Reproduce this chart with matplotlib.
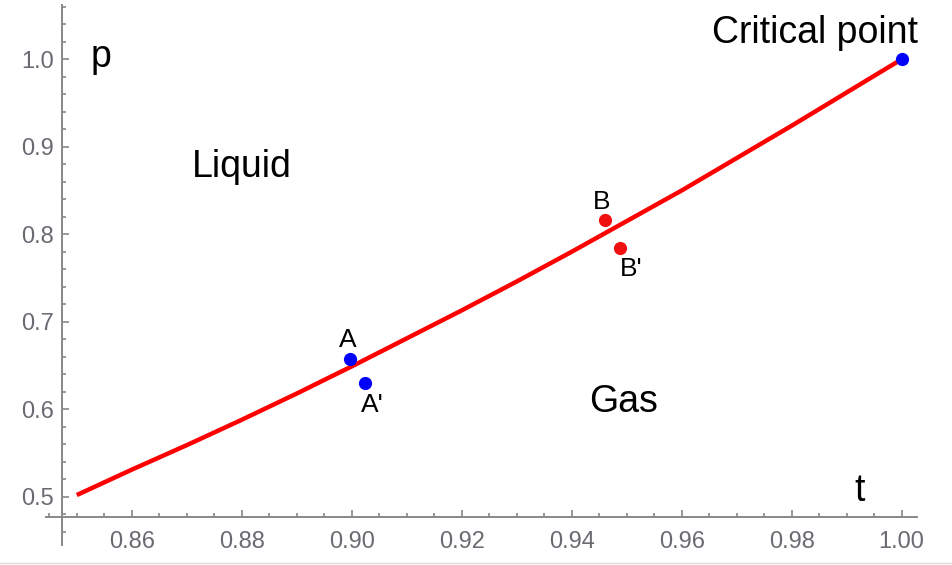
import numpy as np
import matplotlib.pyplot as plt
from matplotlib.lines import Line2D
from matplotlib.ticker import MultipleLocator, FormatStrFormatter

plt.rcParams['font.family'] = ['Liberation Sans', 'DejaVu Sans']

# coexistence curve p(t)
t_curve = [0.85, 0.86, 0.87, 0.88, 0.89, 0.90, 0.91, 0.92,
           0.93, 0.94, 0.95, 0.96, 0.97, 0.98, 0.99, 1.00]
p_curve = [0.502, 0.531, 0.559, 0.588, 0.618, 0.649, 0.681, 0.713,
           0.746, 0.780, 0.815, 0.850, 0.887, 0.924, 0.962, 1.000]

# marked states
blue_t = [0.8997, 0.9024, 1.0]
blue_p = [0.658, 0.630, 1.0]
red_t = [0.946, 0.9487]
red_p = [0.816, 0.784]

# point labels and region labels: (text, t, p)
point_labels = [("A", 0.8993, 0.671), ("A'", 0.9037, 0.597),
                ("B", 0.9455, 0.829), ("B'", 0.9508, 0.752)]
region_labels = [("p", 0.8545, 0.991), ("Liquid", 0.880, 0.866),
                 ("Gas", 0.9495, 0.597), ("Critical point", 0.9843, 1.0186),
                 ("t", 0.9924, 0.4954)]

fig = plt.figure(figsize=(9.52, 5.65), dpi=100)
ax = fig.add_axes([46 / 952, 1 - 545 / 565, 871 / 952, 540 / 565])

ax.plot(t_curve, p_curve, color='#ff0000', lw=3.2, solid_capstyle='butt', zorder=2)
ax.plot(red_t, red_p, 'o', color='#f01010', ms=9.5, mec='none', zorder=3)
ax.plot(blue_t, blue_p, 'o', color='#0000ff', ms=9.5, mec='none', zorder=3)

for txt, x, y in point_labels:
    ax.text(x, y, txt, ha='center', va='baseline', fontsize=19, color='black')
for txt, x, y in region_labels:
    ax.text(x, y, txt, ha='center', va='baseline', fontsize=27, color='black')

ax.set_xlim(0.8444, 1.0028)
ax.set_ylim(0.4449, 1.062)

# Mathematica-like crossing axes
axis_color = '#888888'
for side in ['top', 'right']:
    ax.spines[side].set_visible(False)
ax.spines['left'].set_position(('data', 0.8473))
ax.spines['bottom'].set_position(('data', 0.4769))
for side in ['left', 'bottom']:
    ax.spines[side].set_color(axis_color)
    ax.spines[side].set_linewidth(1.4)
ax.set_facecolor('none')

ax.xaxis.set_major_locator(MultipleLocator(0.02))
ax.xaxis.set_minor_locator(MultipleLocator(0.005))
ax.yaxis.set_major_locator(MultipleLocator(0.1))
ax.yaxis.set_minor_locator(MultipleLocator(0.02))
ax.xaxis.set_major_formatter(FormatStrFormatter('%.2f'))
ax.yaxis.set_major_formatter(FormatStrFormatter('%.1f'))

ax.tick_params(which='both', direction='in', color=axis_color, width=1.2)
ax.tick_params(which='major', length=5, labelsize=17, labelcolor='#6a6a72')
ax.tick_params(which='minor', length=3)
ax.tick_params(axis='x', which='major', pad=10)
ax.tick_params(axis='y', which='major', pad=6)

# drop tick labels outside the drawn range
ax.set_xticks([v for v in np.arange(0.86, 1.001, 0.02)])
ax.set_yticks([v for v in np.arange(0.5, 1.001, 0.1)])

fig.add_artist(Line2D([0, 1], [1 - 562.5 / 565] * 2, color='#dddddd', lw=1))

fig.savefig('out.png', dpi=100)
